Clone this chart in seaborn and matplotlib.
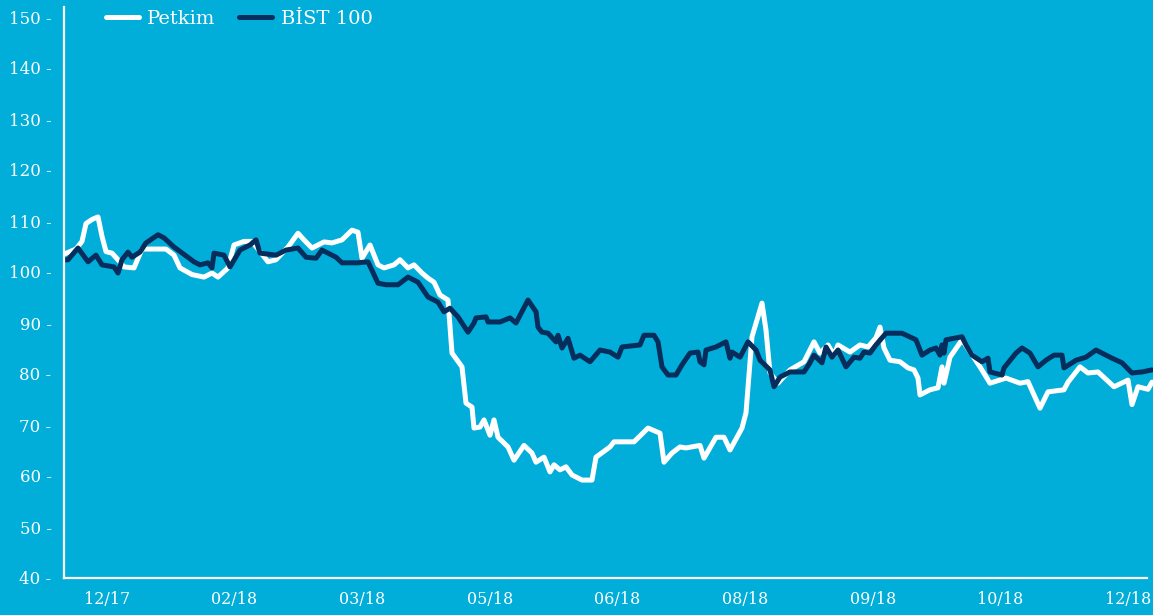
import numpy as np
import pandas as pd
import seaborn as sns
import matplotlib.pyplot as plt

# trading-day index and index values
petkim_day = [0, 6, 9, 11, 14, 17, 19, 21, 24, 27, 30, 35, 39, 45, 51, 55, 58, 64, 70, 74,
              77, 82, 85, 90, 94, 98, 102, 106, 112, 117, 120, 124, 130, 134, 139, 144, 147, 149, 153, 157,
              160, 165, 168, 172, 175, 179, 182, 185, 188, 192, 194, 199, 201, 204, 205, 208, 210, 213, 215, 217,
              222, 225, 230, 234, 236, 240, 243, 245, 248, 251, 254, 259, 264, 266, 273, 275, 285, 292, 298, 300,
              304, 308, 311, 318, 320, 326, 330, 333, 339, 341, 344, 349, 351, 353, 357, 363, 370, 375, 378, 382,
              385, 387, 393, 398, 402, 406, 408, 410, 413, 418, 422, 425, 427, 428, 433, 437, 439, 440, 443, 449,
              458, 463, 471, 478, 482, 488, 492, 500, 502, 508, 512, 517, 525, 532, 534, 537, 542, 544]
petkim = [103.5, 104.5, 106, 109.5, 110.3, 110.8, 107, 104, 103.7, 102.4, 101, 100.8, 104.5, 104.5, 104.5, 103.3, 100.8, 99.5, 99, 99.8,
          99, 100.8, 105.3, 106, 106, 104, 102, 102.4, 104.9, 107.6, 106.3, 104.7, 105.9, 105.7, 106.3, 108.2, 107.8, 102.7, 105.3, 101.4,
          100.8, 101.4, 102.4, 100.8, 101.4, 99.8, 98.8, 98, 95.5, 94.5, 84.1, 81.4, 74.3, 73.5, 69.4, 69.6, 71, 68, 71, 67.6,
          65.7, 63.1, 66, 64.5, 62.7, 63.7, 60.8, 62.2, 61.2, 61.8, 60.2, 59.2, 59.2, 63.7, 65.7, 66.7, 66.7, 69.4, 68.4, 62.7,
          64.5, 65.7, 65.5, 66, 63.5, 67.6, 67.6, 65.1, 69.4, 72.4, 87.3, 93.9, 88.6, 80.2, 78.2, 80.8, 82.4, 86.3, 84.1, 85.7,
          83.7, 85.7, 84.3, 85.7, 85.3, 87.1, 89.2, 85.1, 82.7, 82.4, 81.2, 80.8, 79.2, 75.9, 76.9, 77.3, 81.4, 78.2, 83.3, 86.7,
          81.4, 78.2, 79.2, 78.2, 78.5, 73.3, 76.5, 76.9, 78.4, 81.4, 80.2, 80.4, 77.5, 78.8, 74, 77.5, 77, 78.4]

bist_day = [0, 2, 7, 12, 16, 19, 25, 27, 29, 32, 34, 38, 41, 47, 50, 55, 65, 68, 72, 74,
            75, 80, 83, 88, 93, 96, 98, 106, 111, 117, 121, 126, 129, 136, 139, 147, 152, 157, 161, 167,
            172, 177, 182, 187, 190, 193, 197, 202, 205, 206, 211, 212, 218, 223, 226, 232, 236, 237, 239, 242,
            246, 247, 249, 252, 255, 258, 263, 268, 273, 277, 279, 288, 290, 295, 297, 299, 302, 306, 309, 313,
            317, 318, 320, 321, 326, 331, 333, 334, 338, 342, 346, 348, 353, 355, 358, 363, 370, 373, 375, 379,
            381, 384, 387, 391, 395, 398, 400, 403, 406, 411, 419, 426, 429, 433, 436, 438, 439, 440, 441, 449,
            451, 454, 459, 462, 463, 469, 470, 476, 479, 483, 487, 491, 495, 499, 500, 506, 511, 516, 524, 529,
            534, 539, 544]
bist = [102.4, 102.4, 104.7, 102, 103.3, 101.4, 101, 99.8, 102.4, 103.9, 102.9, 103.9, 105.7, 107.3, 106.7, 104.9, 102, 101.4, 101.8, 100.8,
        103.7, 103.3, 101, 104.3, 105.3, 106.3, 103.7, 103.3, 104.3, 104.7, 102.9, 102.7, 104.3, 102.9, 101.8, 101.8, 102, 97.8, 97.5, 97.5,
        99, 98, 95.1, 94.1, 92.2, 92.9, 91.2, 88.2, 90, 91, 91.2, 90.2, 90.2, 91, 90, 94.5, 92.2, 89.2, 88.2, 88,
        86.3, 87.6, 85.1, 87, 83.1, 83.7, 82.4, 84.7, 84.3, 83.3, 85.3, 85.7, 87.6, 87.6, 86.3, 81.4, 79.8, 79.8, 81.8, 84.1,
        84.3, 82.4, 81.8, 84.7, 85.3, 86.3, 83.1, 84.3, 83.3, 86.3, 84.7, 82.7, 80.8, 77.5, 79.4, 80.4, 80.4, 82.2, 83.7, 82.2,
        85.3, 83.3, 84.7, 81.4, 83.3, 83.1, 84.3, 84.1, 85.7, 88, 88, 86.7, 83.7, 84.7, 85.1, 83.7, 85.7, 84.1, 86.7, 87.3,
        85.7, 83.7, 82.4, 83.1, 80.4, 79.8, 81.2, 84.1, 85.1, 84.1, 81.4, 82.7, 83.7, 83.7, 81.2, 82.7, 83.3, 84.7, 83.1, 82.2,
        80.2, 80.4, 80.8]

tick_day = [21.5, 85, 149, 213, 276.5, 340.5, 404.5, 468, 532]
tick_lab = ['12/17', '02/18', '03/18', '05/18', '06/18', '08/18', '09/18', '10/18', '12/18']

bg = '#00aed9'
navy = '#062d5c'

sns.set_style('white', {'axes.facecolor': bg, 'figure.facecolor': bg})
plt.rcParams['font.family'] = ['DejaVu Serif']

fig = plt.figure(figsize=(11.53, 6.15), dpi=100)
ax = fig.add_axes([64 / 1153, 37 / 615, 1089 / 1153, 571 / 615])

df_p = pd.DataFrame({'day': petkim_day, 'val': petkim})
df_b = pd.DataFrame({'day': bist_day, 'val': bist})
sns.lineplot(data=df_p, x='day', y='val', color='white', lw=3.6, ax=ax, label='Petkim',
             solid_joinstyle='round', solid_capstyle='round')
sns.lineplot(data=df_b, x='day', y='val', color=navy, lw=3.6, ax=ax, label='BİST 100',
             solid_joinstyle='round', solid_capstyle='round')

ax.set_xlim(0, 544.5)
ax.set_ylim(40, 40 + 571 / 5.1)
ax.set_yticks(range(40, 151, 10))
ax.set_yticklabels([f'{v} -' for v in range(40, 151, 10)])
ax.set_xticks(tick_day)
ax.set_xticklabels(tick_lab)
ax.set_xlabel('')
ax.set_ylabel('')
ax.tick_params(axis='y', length=0, pad=9, labelsize=12, labelcolor='white')
ax.tick_params(axis='x', length=0, pad=9, labelsize=11.5, labelcolor='white')

for s in ['top', 'right']:
    ax.spines[s].set_visible(False)
for s in ['left', 'bottom']:
    ax.spines[s].set_color('white')
    ax.spines[s].set_linewidth(1.6)
ax.spines['bottom'].set_bounds(0, 541.5)

ax.legend_.remove()
h, l = ax.get_legend_handles_labels()
leg = fig.legend(h, l, loc='upper left', bbox_to_anchor=(88 / 1153, 1.012), ncol=2, frameon=False,
                 fontsize=14, handlelength=1.7, columnspacing=1.2, handletextpad=0.45)
for t in leg.get_texts():
    t.set_color('white')
for ln in leg.get_lines():
    ln.set_solid_capstyle('round')

fig.savefig('out.png', dpi=100, facecolor=bg)
